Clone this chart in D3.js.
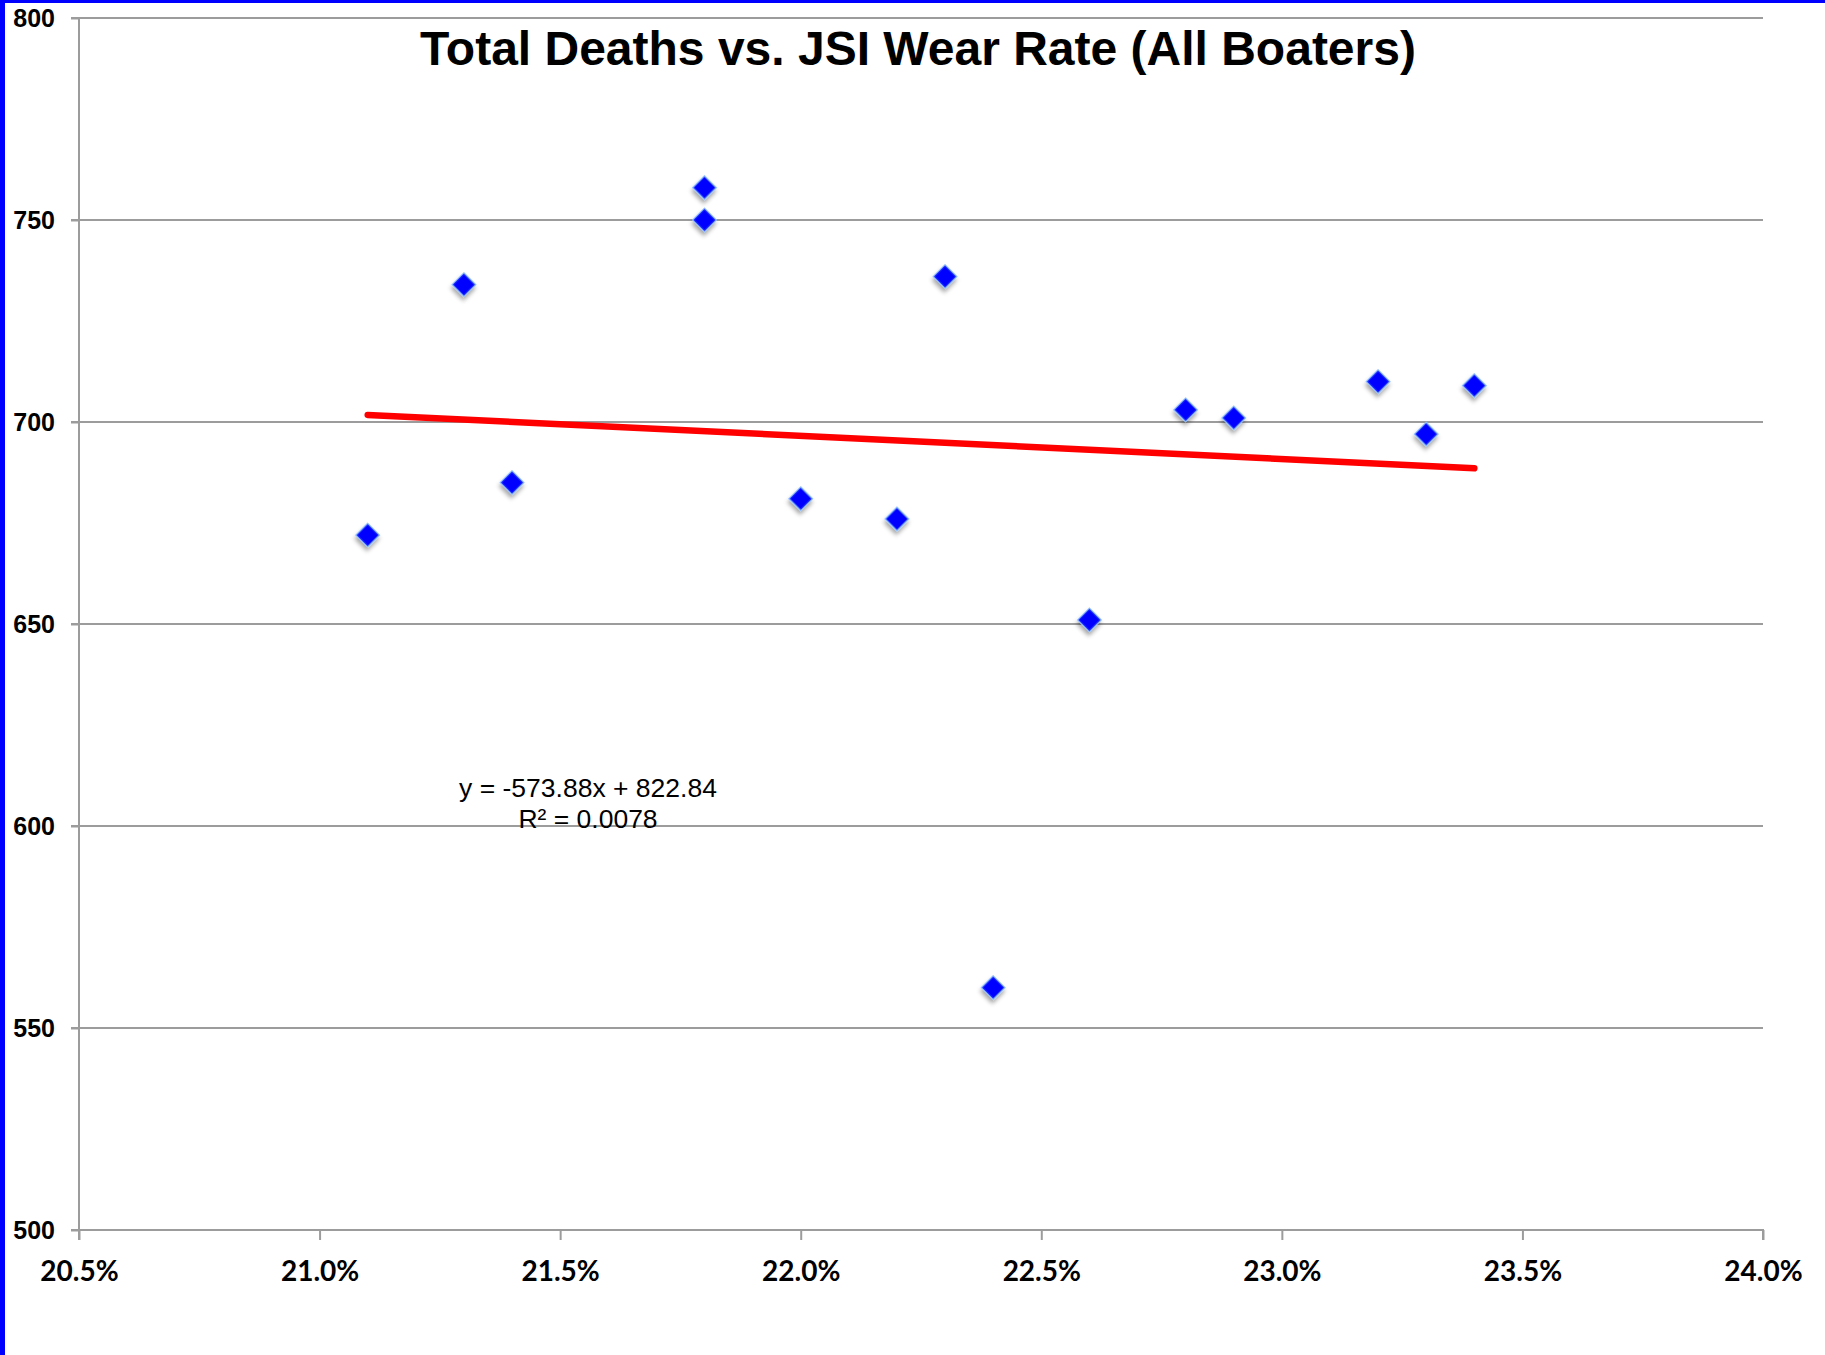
<!DOCTYPE html>
<html>
<head>
<meta charset="utf-8">
<script src="https://cdn.jsdelivr.net/npm/d3@7"></script>
<style>
  html, body { margin: 0; padding: 0; background: #fff; }
  svg { display: block; }
</style>
</head>
<body>
<div id="chart"></div>
<script>
// Data
const wearRate = [0.211, 0.213, 0.214, 0.218, 0.218, 0.220, 0.222, 0.223, 0.224, 0.226, 0.228, 0.229, 0.232, 0.233, 0.234];
const totalDeaths = [672, 734, 685, 758, 750, 681, 676, 736, 560, 651, 703, 701, 710, 697, 709];
const xTicks = [0.205, 0.21, 0.215, 0.22, 0.225, 0.23, 0.235, 0.24];
const yTicks = [500, 550, 600, 650, 700, 750, 800];
const trendSlope = -573.88;
const trendIntercept = 822.84;
const trendLabel = ["y = -573.88x + 822.84", "R\u00b2 = 0.0078"];
const title = "Total Deaths vs. JSI Wear Rate (All Boaters)";

const points = wearRate.map((x, i) => ({ x, y: totalDeaths[i] }));

/// Dimensions
const fullWidth = 1825;
const fullHeight = 1355;
const margin = { top: 18, right: 62, bottom: 125, left: 79 };
const width = fullWidth - margin.left - margin.right;
const height = fullHeight - margin.top - margin.bottom;

const root = d3.select("#chart")
    .append("svg")
    .attr("width", fullWidth)
    .attr("height", fullHeight);

// blue frame on the left and top
root.append("rect").attr("x", 0).attr("y", 0).attr("width", fullWidth).attr("height", 3).attr("fill", "#0000ff");
root.append("rect").attr("x", 0).attr("y", 0).attr("width", 5).attr("height", fullHeight).attr("fill", "#0000ff");

const defs = root.append("defs");
const shadow = defs.append("filter").attr("id", "mkShadow")
    .attr("x", "-50%").attr("y", "-50%").attr("width", "200%").attr("height", "200%");
shadow.append("feDropShadow")
    .attr("dx", 2).attr("dy", 3).attr("stdDeviation", 2)
    .attr("flood-color", "#000").attr("flood-opacity", 0.35);

const svg = root.append("g")
    .attr("transform", `translate(${margin.left},${margin.top})`);

const x = d3.scaleLinear().domain([0.205, 0.24]).range([0, width]);
const y = d3.scaleLinear().domain([500, 800]).range([height, 0]);

// Gridlines
svg.selectAll(".grid")
    .data(yTicks.filter(d => d > 500))
    .join("line")
    .attr("class", "grid")
    .attr("x1", -8)
    .attr("x2", width)
    .attr("y1", d => y(d))
    .attr("y2", d => y(d))
    .style("stroke", "#9c9c9c")
    .style("stroke-width", 2);

// Y axis
const gy = svg.append("g")
    .call(d3.axisLeft(y).tickValues(yTicks).tickSize(8).tickPadding(16).tickFormat(d3.format("d")));
gy.select(".domain").attr("stroke", "#9c9c9c").attr("stroke-width", 2).attr("d", `M0,0V${height + 10}`);
gy.selectAll(".tick line").attr("stroke", "#9c9c9c").attr("stroke-width", 2);
gy.selectAll("text")
    .style("font-family", "'Liberation Sans', Arial, sans-serif")
    .style("font-weight", "700")
    .style("font-size", "25px")
    .style("fill", "#000");

// X axis
const gx = svg.append("g")
    .attr("transform", `translate(0,${height})`)
    .call(d3.axisBottom(x).tickValues(xTicks).tickSize(10).tickPadding(21).tickFormat(d3.format(".1%")));
gx.select(".domain").attr("stroke", "#9c9c9c").attr("stroke-width", 2).attr("d", `M-8,0H${width}V10`);
gx.selectAll(".tick line").attr("stroke", "#9c9c9c").attr("stroke-width", 2);
gx.selectAll("text")
    .style("font-family", "Lato, 'Open Sans', sans-serif")
    .style("font-weight", "700")
    .style("font-size", "28px")
    .style("fill", "#000");

// Trendline
const xExt = d3.extent(wearRate);
svg.append("line")
    .attr("x1", x(xExt[0]))
    .attr("y1", y(trendSlope * xExt[0] + trendIntercept))
    .attr("x2", x(xExt[1]))
    .attr("y2", y(trendSlope * xExt[1] + trendIntercept))
    .style("stroke", "#ff0000")
    .style("stroke-width", 6.5)
    .style("stroke-linecap", "round");

// Markers
svg.selectAll(".pt")
    .data(points)
    .join("path")
    .attr("class", "pt")
    .attr("d", d3.symbol(d3.symbolSquare, 280))
    .attr("transform", d => `translate(${x(d.x)},${y(d.y)}) rotate(45)`)
    .style("fill", "#0000ff")
    .style("stroke", "#8fc0ff")
    .style("stroke-width", 1.2)
    .style("filter", "url(#mkShadow)");

// Equation label
const eq = svg.append("text")
    .attr("text-anchor", "middle")
    .attr("x", 509)
    .attr("y", 779)
    .style("font-family", "'Liberation Sans', Arial, sans-serif")
    .style("font-size", "26.5px")
    .style("fill", "#000");
eq.selectAll("tspan")
    .data(trendLabel)
    .join("tspan")
    .attr("x", 509)
    .attr("dy", (d, i) => i === 0 ? 0 : 31)
    .text(d => d);

// Title
svg.append("text")
    .attr("text-anchor", "middle")
    .attr("x", width / 2 - 3)
    .attr("y", 47)
    .style("font-family", "'Liberation Sans', Arial, sans-serif")
    .style("font-weight", "700")
    .style("font-size", "48px")
    .style("fill", "#000")
    .text(title);
</script>
</body>
</html>
